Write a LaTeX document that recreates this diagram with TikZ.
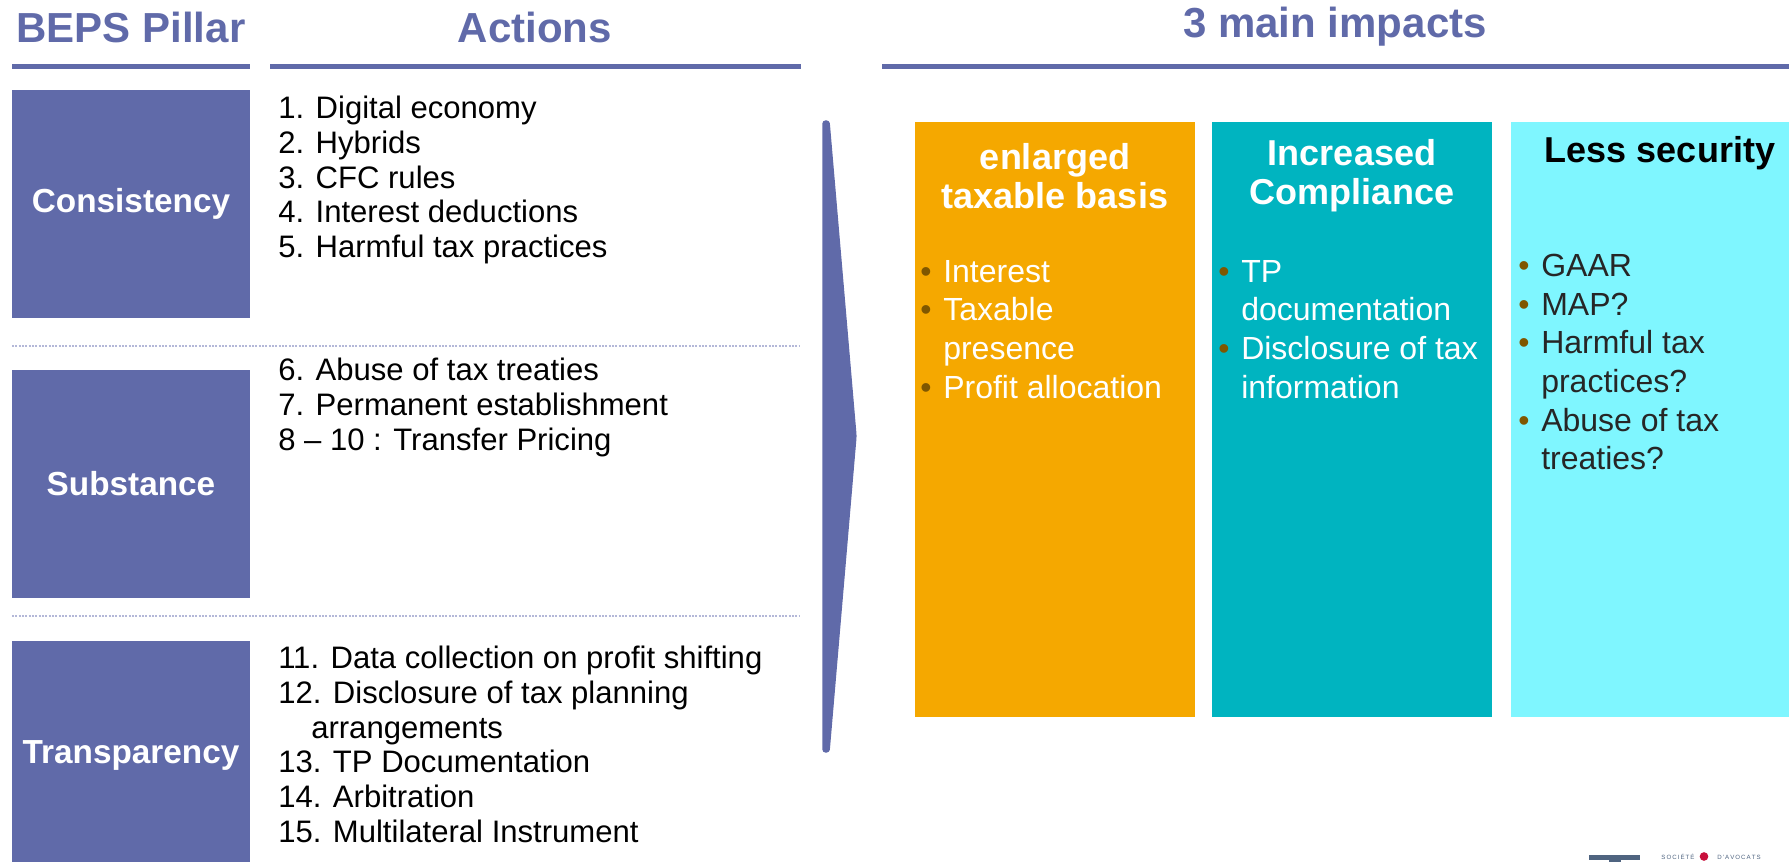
\documentclass[tikz,border=0pt]{standalone}
\usepackage{fontspec}
\setmainfont{Liberation Sans}
\definecolor{bepsBlue}{HTML}{606AA9}
\definecolor{bepsDots}{HTML}{B4B8D8}
\definecolor{impactOrange}{HTML}{F5A800}
\definecolor{impactTeal}{HTML}{00B4C0}
\definecolor{impactCyan}{HTML}{7FF6FF}
\definecolor{bulletBrown}{HTML}{7F5700}
\definecolor{logoSlate}{HTML}{4F6480}
\definecolor{logoRed}{HTML}{C8103C}
\newcommand{\bul}{\makebox[17.25pt][l]{\color{bulletBrown}\textbullet}}
\newcommand{\hang}{\hspace*{17.25pt}}
\newcommand{\contline}{\hspace*{24.75pt}}
\begin{document}
\begin{tikzpicture}[x=0.75pt,y=-0.75pt,
  header/.style={text=bepsBlue, font=\fontsize{31.5}{36}\selectfont\bfseries, inner sep=0pt},
  rulebar/.style={fill=bepsBlue, inner sep=0pt},
  pillar/.style={fill=bepsBlue, text=white, inner sep=0pt, minimum width=178.5pt,
    minimum height=171pt, font=\fontsize{25}{30}\selectfont\bfseries},
  actionlist/.style={anchor=north west, inner sep=0pt, align=left, text=black,
    font=\fontsize{23.3}{26}\selectfont},
  impact/.style={anchor=north west, inner sep=0pt, minimum width=210pt, minimum height=446.25pt},
  impacthead/.style={inner sep=0pt, align=center, font=\fontsize{27}{29.2}\selectfont\bfseries},
  impactlist/.style={anchor=north west, inner sep=0pt, align=left, text=white,
    font=\fontsize{24}{29}\selectfont},
  dotline/.style={bepsDots, line width=1pt, dash pattern=on 1.5pt off 1pt}
]
  \path[use as bounding box, clip] (0,0) rectangle (1789,862);
  % headers
  \node[header] (pillarhead) at (131,27) {BEPS Pillar};
  \node[header] (actionhead) at (535,27) {Actions};
  \node[header] (impactshead) at (1335,27) {3 main impacts};
  \node[rulebar, minimum width=178.5pt, minimum height=3.75pt] (pillarrule) at (131,66.5) {};
  \node[rulebar, minimum width=398.25pt, minimum height=3.75pt] (actionrule) at (535.5,66.5) {};
  \node[rulebar, minimum width=680.25pt, minimum height=3.75pt] (impactrule) at (1335.5,66.5) {};
  % pillars
  \node[pillar] (consistency) at (131,204) {Consistency};
  \node[pillar] (substance) at (131,484) {Substance};
  \node[pillar] (transparency) at (131,755) {Transparency};
  \draw[dotline] (12,346) -- (800,346);
  \draw[dotline] (12,616) -- (800,616);
  % actions
  \node[actionlist] (actionsA) at (278,96) {
    1. Digital economy\\
    2. Hybrids\\
    3. CFC rules\\
    4. Interest deductions\\
    5. Harmful tax practices
  };
  \node[actionlist] (actionsB) at (278,358) {
    6. Abuse of tax treaties\\
    7. Permanent establishment\\
    8 -- 10 : Transfer Pricing
  };
  \node[actionlist] (actionsC) at (278,646) {
    11. Data collection on profit shifting\\
    12. Disclosure of tax planning\\
    \contline arrangements\\
    13. TP Documentation\\
    14. Arbitration\\
    15. Multilateral Instrument
  };
  % big arrow
  \fill[bepsBlue, draw=bepsBlue, line width=1pt, line join=round, rounded corners=2pt]
    (823,121) -- (829,121) -- (856,436) -- (829,752) -- (823,752) -- cycle;
  % impacts
  \node[impact, fill=impactOrange] (enlarged) at (915,122) {};
  \node[impact, fill=impactTeal] (compliance) at (1212,122) {};
  \node[impact, fill=impactCyan, minimum width=208.5pt] (security) at (1511,122) {};
  \node[impacthead, text=white] (enlargedhead) at (1055,176) {enlarged\\taxable basis};
  \node[impacthead, text=white] (compliancehead) at (1352,176) {Increased\\Compliance};
  \node[impacthead, text=black] (securityhead) at (1660,153) {Less security};
  \node[impactlist] (enlargedlist) at (920,260) {
    \bul Interest\\
    \bul Taxable\\
    \hang presence\\
    \bul Profit allocation
  };
  \node[impactlist] (compliancelist) at (1218,260) {
    \bul TP\\
    \hang documentation\\
    \bul Disclosure of tax\\
    \hang information
  };
  \node[impactlist, text=black!85] (securitylist) at (1518,254) {
    \bul GAAR\\
    \bul MAP?\\
    \bul Harmful tax\\
    \hang practices?\\
    \bul Abuse of tax\\
    \hang treaties?
  };
  % logo
  \fill[logoSlate] (1589,855) rectangle (1640,860);
  \fill[logoSlate] (1609,860) rectangle (1621,862);
  \node[inner sep=0pt, text=logoSlate, font=\fontsize{4.6}{5}\selectfont] (logoleft) at (1678,857)
    {S\,O\,C\,I\,É\,T\,É};
  \node[circle, fill=logoRed, inner sep=0pt, minimum size=6.5pt] (logodot) at (1704,856.5) {};
  \node[inner sep=0pt, text=logoSlate, font=\fontsize{4.6}{5}\selectfont] (logoright) at (1739,857)
    {D\,'\,A\,V\,O\,C\,A\,T\,S};
\end{tikzpicture}
\end{document}
